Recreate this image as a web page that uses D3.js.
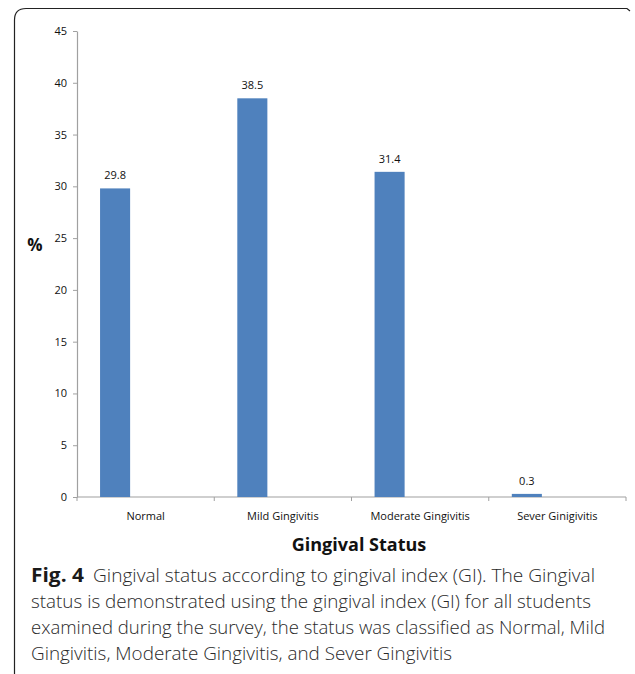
<!DOCTYPE html>
<html>
<head>
<meta charset="utf-8">
<script src="https://cdn.jsdelivr.net/npm/d3@7"></script>
<style>
  html, body { margin: 0; padding: 0; background: #fff; }
  svg { display: block; }
</style>
</head>
<body>
<svg id="chart" width="635" height="674"></svg>
<script>
// Gingival status categories and their share of students (%)
const categories = ["Normal", "Mild Gingivitis", "Moderate Gingivitis", "Sever Ginigivitis"];
const percentages = [29.8, 38.5, 31.4, 0.3];
const yTicks = [0, 5, 10, 15, 20, 25, 30, 35, 40, 45];

const captionBold = "Fig. 4";
const captionLines = [
  "Gingival status according to gingival index (GI). The Gingival",
  "status is demonstrated using the gingival index (GI) for all students",
  "examined during the survey, the status was classified as Normal, Mild",
  "Gingivitis, Moderate Gingivitis, and Sever Gingivitis"
];

const svg = d3.select("#chart");
const chartFont = "'Open Sans', sans-serif";

// Figure frame: top rule and left rule with a rounded corner
svg.append("path")
  .attr("d", "M14.5,674 L14.5,20 Q14.5,8.5 26,8.5 L627,8.5 L630,11")
  .attr("fill", "none")
  .attr("stroke", "#222")
  .attr("stroke-width", 1.2);

const plot = { left: 77, right: 626, top: 31, bottom: 497 };

const x = d3.scaleBand()
  .domain(categories)
  .range([plot.left, plot.right])
  .paddingInner(0)
  .paddingOuter(0);

const y = d3.scaleLinear()
  .domain([0, 45])
  .range([plot.bottom, plot.top]);

const barOffset = x.bandwidth() * 0.168;
const barWidth = x.bandwidth() * 0.219;

// Y axis
const yAxis = d3.axisLeft(y)
  .tickValues(yTicks)
  .tickSize(4)
  .tickPadding(6)
  .tickSizeOuter(0);
const gy = svg.append("g")
  .attr("transform", `translate(${plot.left},0)`)
  .call(yAxis);
gy.select(".domain").attr("stroke", "#a0a0a0").attr("stroke-width", 1.2);
gy.selectAll(".tick line").attr("stroke", "#a0a0a0");
gy.selectAll(".tick text")
  .attr("font-family", chartFont)
  .attr("font-size", 11)
  .attr("fill", "#111");

// X axis with ticks at the category boundaries
const gx = svg.append("g")
  .attr("transform", `translate(0,${plot.bottom})`);
gx.append("line")
  .attr("x1", plot.left).attr("x2", plot.right)
  .attr("stroke", "#a0a0a0").attr("stroke-width", 1.2);
const boundaries = categories.map(c => x(c)).concat([x(categories[categories.length - 1]) + x.bandwidth()]);
gx.selectAll(".bt").data(boundaries).enter().append("line")
  .attr("x1", d => d).attr("x2", d => d)
  .attr("y1", 0).attr("y2", 4)
  .attr("stroke", "#a0a0a0");
gx.selectAll(".cat").data(categories).enter().append("text")
  .attr("x", d => x(d) + x.bandwidth() / 2)
  .attr("y", 23)
  .attr("text-anchor", "middle")
  .attr("font-family", chartFont)
  .attr("font-size", 11)
  .attr("fill", "#111")
  .text(d => d);

// Bars
const data = categories.map((c, i) => ({ cat: c, value: percentages[i] }));
svg.selectAll(".bar").data(data).enter().append("rect")
  .attr("x", d => x(d.cat) + barOffset)
  .attr("y", d => y(d.value))
  .attr("width", barWidth)
  .attr("height", d => plot.bottom - y(d.value))
  .attr("fill", "#4f81bd");

// Value labels
svg.selectAll(".val").data(data).enter().append("text")
  .attr("x", d => x(d.cat) + barOffset + barWidth / 2)
  .attr("y", d => y(d.value) - 9)
  .attr("text-anchor", "middle")
  .attr("font-family", chartFont)
  .attr("font-size", 11)
  .attr("fill", "#111")
  .text(d => d.value);

// Axis titles
svg.append("text")
  .attr("x", 35).attr("y", 251)
  .attr("text-anchor", "middle")
  .attr("font-family", chartFont)
  .attr("font-weight", "bold")
  .attr("font-size", 17)
  .attr("fill", "#111")
  .text("%");

svg.append("text")
  .attr("x", 359).attr("y", 551)
  .attr("text-anchor", "middle")
  .attr("font-family", chartFont)
  .attr("font-weight", "bold")
  .attr("font-size", 18)
  .attr("fill", "#111")
  .text("Gingival Status");

// Caption, each line fitted to its set width
const capFont = "'Open Sans', sans-serif";
const capLeft = 31;
const capRight = [595, 591, 605, 452];
captionLines.forEach((line, i) => {
  const baseline = 582 + i * 26;
  if (i === 0) {
    svg.append("text")
      .attr("x", capLeft).attr("y", baseline)
      .attr("font-family", capFont)
      .attr("font-weight", "bold")
      .attr("font-size", 19)
      .attr("fill", "#1a1a1a")
      .attr("textLength", 53)
      .attr("lengthAdjust", "spacingAndGlyphs")
      .text(captionBold);
  }
  const start = i === 0 ? 93 : capLeft;
  svg.append("text")
    .attr("x", start).attr("y", baseline)
    .attr("font-family", capFont)
    .attr("font-weight", 300)
    .attr("font-size", 19)
    .attr("fill", "#2a2a2a")
    .attr("textLength", capRight[i] - start)
    .attr("lengthAdjust", "spacingAndGlyphs")
    .text(line);
});
</script>
</body>
</html>
